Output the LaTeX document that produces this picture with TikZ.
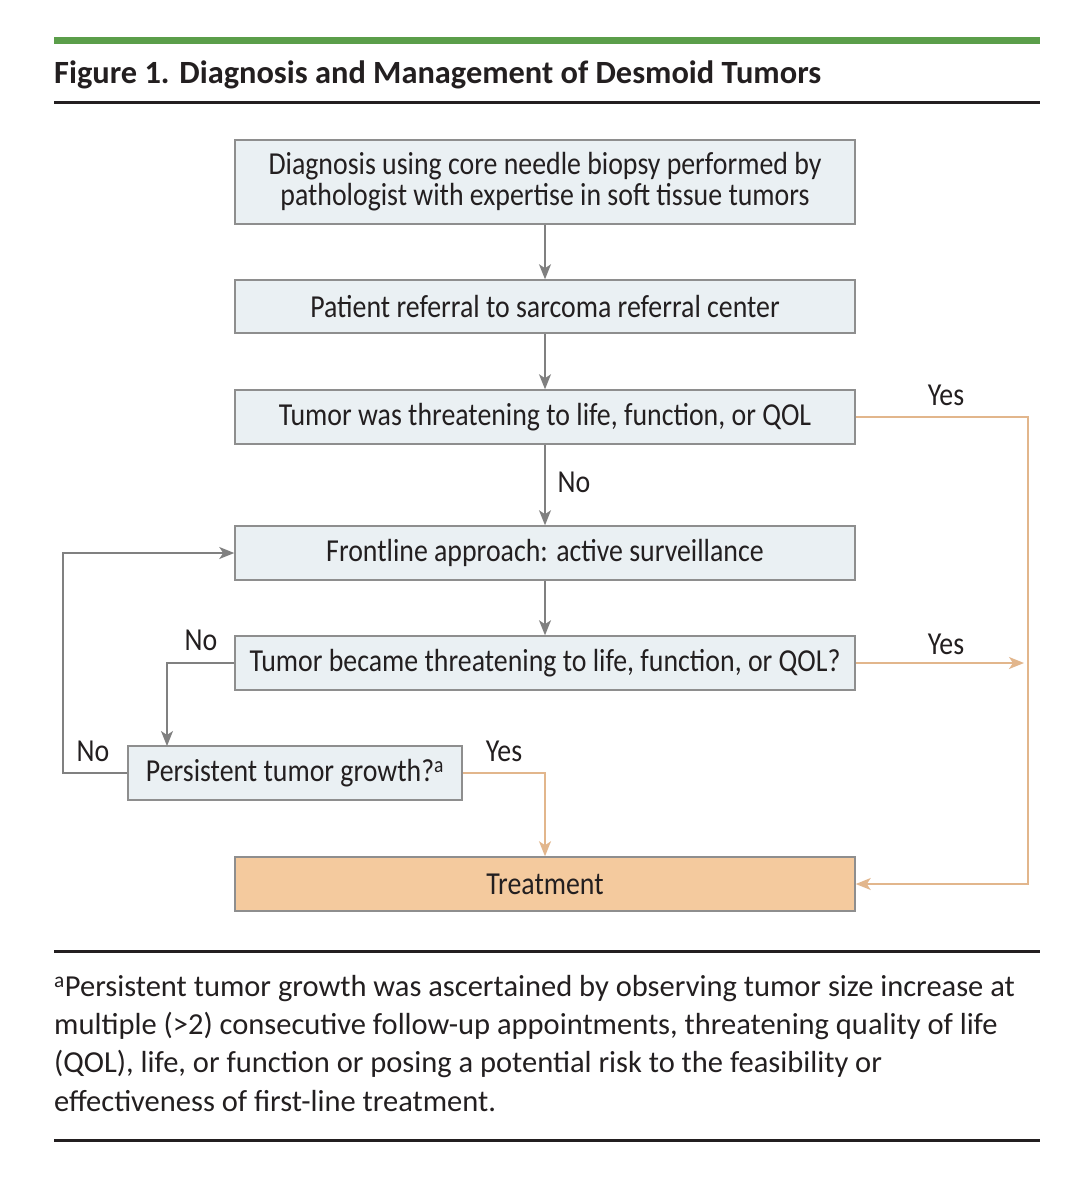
\documentclass[tikz,border=0pt]{standalone}
\usepackage{fontspec}
\setmainfont{Carlito}
\newfontfamily\boxfont[FakeStretch=0.87]{Carlito}
\usetikzlibrary{arrows.meta}
\definecolor{boxfill}{HTML}{EAF0F3}
\definecolor{boxline}{HTML}{8E8E8E}
\definecolor{arrgray}{HTML}{808080}
\definecolor{orgline}{HTML}{E2B68C}
\definecolor{orgfill}{HTML}{F4CA9E}
\definecolor{jgreen}{HTML}{5B9E4A}
\definecolor{ink}{HTML}{231F20}
\tikzstyle{bx}=[rectangle,draw=boxline,fill=boxfill,line width=1.5pt,text=ink,font=\boxfont\fontsize{32}{31}\selectfont,minimum width=620pt,minimum height=54pt,inner sep=0pt,align=center]
\tikzstyle{ga}=[draw=arrgray,line width=1.5pt,-{Stealth[length=15pt,width=12pt,inset=4pt]}]
\tikzstyle{oa}=[draw=orgline,line width=1.5pt,-{Stealth[length=15pt,width=12pt,inset=4pt]}]
\tikzstyle{lb}=[text=ink,font=\boxfont\fontsize{32}{31}\selectfont,inner sep=0pt]

\begin{document}
\begin{tikzpicture}[x=1pt,y=-1pt]
\useasboundingbox (0,0) rectangle (1077,1200);
\fill[white] (0,0) rectangle (1077,1200);
\draw[jgreen,line width=6.5pt] (54,40.5) -- (1040,40.5);
\node[anchor=base west,inner sep=0pt,text=ink,font=\bfseries\fontsize{32.4}{33}\selectfont] (title) at (54,83) {Figure 1. Diagnosis and Management of Desmoid Tumors};
\draw[ink,line width=3pt] (54,102) -- (1040,102);

\node[bx,minimum height=84pt] (diag) at (545,182) {Diagnosis using core needle biopsy performed by\\pathologist with expertise in soft tissue tumors};
\node[bx,minimum height=53pt] (refer) at (545,306.5) {Patient referral to sarcoma referral center};
\node[bx] (was) at (545,417) {Tumor was threatening to life, function, or QOL};
\node[bx] (front) at (545,553) {Frontline approach: active surveillance};
\node[bx] (became) at (545,663) {Tumor became threatening to life, function, or QOL?};
\node[bx,minimum width=334pt] (grow) at (295,773) {Persistent tumor growth?\textsuperscript{a}};
\node[bx,fill=orgfill] (treat) at (545,884) {Treatment};

\coordinate (r1) at (1028,417);
\coordinate (r2) at (1024,663);
\coordinate (n1) at (167,746);
\coordinate (l1) at (63,773);

\draw[ga] (diag) -- (refer);
\draw[ga] (refer) -- (was);
\draw[ga] (was) -- (front);
\draw[ga] (front) -- (became);
\draw[ga] (became.west) -| (n1);
\draw[ga] (grow.west) -- (l1) |- (front.west);
\draw[oa] (was.east) -- (r1) |- (treat.east);
\draw[oa] (became.east) -- (r2);
\draw[oa] (grow.east) -| (treat.north);

\node[lb] (y1) at (946,395) {Yes};
\node[lb] (no1) at (574,482) {No};
\node[lb] (y2) at (946,644) {Yes};
\node[lb] (no2) at (201,640) {No};
\node[lb] (no3) at (93,751) {No};
\node[lb] (y3) at (504,751) {Yes};

\draw[ink,line width=3pt] (54,951) -- (1040,951);
\node[anchor=base west,inner sep=0pt,text=ink,align=left,font=\fontsize{30.5}{38.3}\selectfont] (note) at (54,1111) {\textsuperscript{a}Persistent tumor growth was ascertained by observing tumor size increase at\\multiple (>2) consecutive follow-up appointments, threatening quality of life\\(QOL), life, or function or posing a potential risk to the feasibility or\\effectiveness of first-line treatment.};
\draw[ink,line width=3pt] (54,1140) -- (1040,1140);
\end{tikzpicture}
\end{document}
